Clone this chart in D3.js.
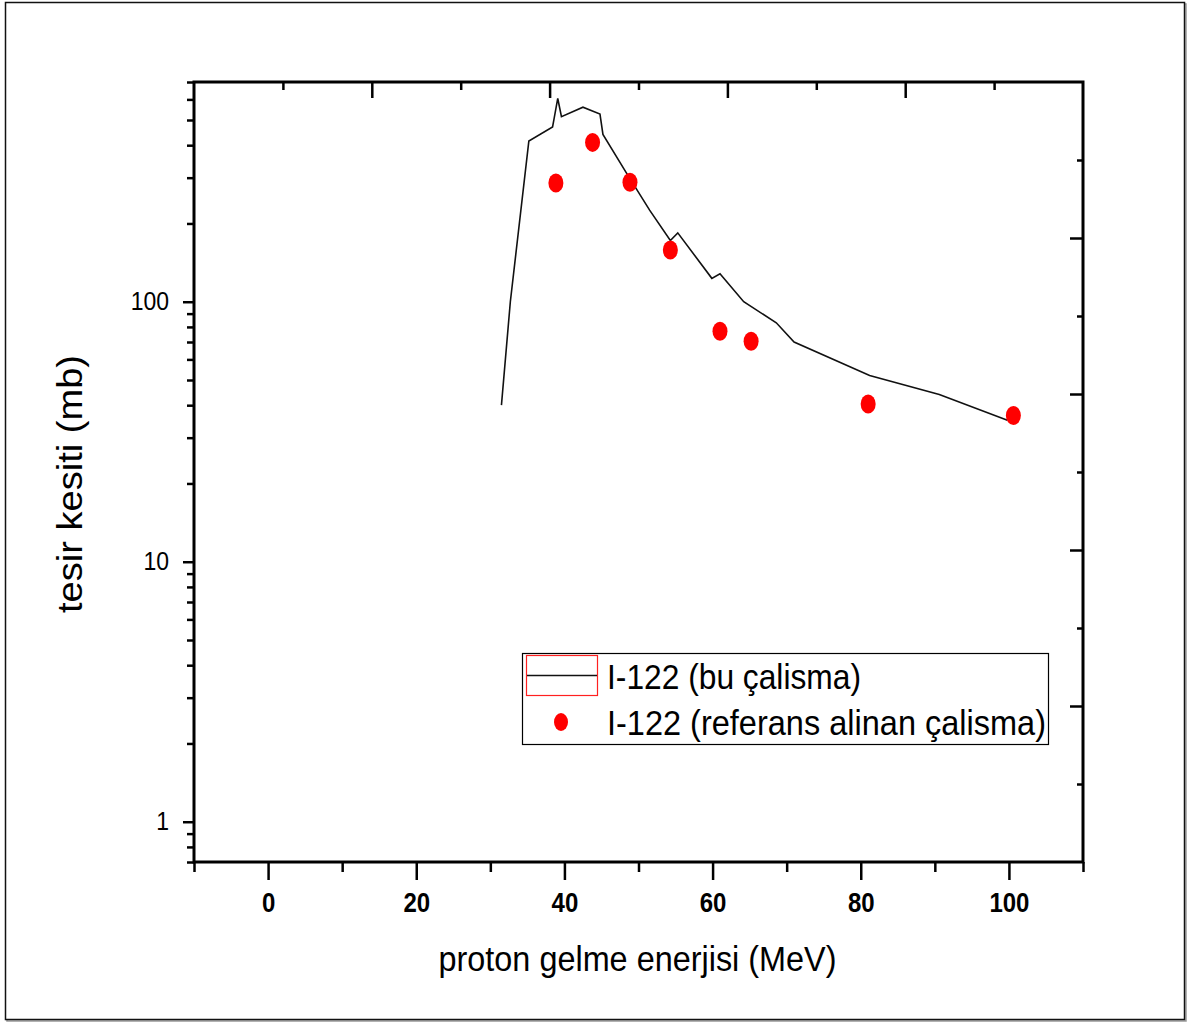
<!DOCTYPE html>
<html>
<head>
<meta charset="utf-8">
<script src="https://cdn.jsdelivr.net/npm/d3@7/dist/d3.min.js"></script>
<style>
  body { margin: 0; background: #fff; }
  svg { display: block; font-family: Arial, "Liberation Sans", sans-serif; }
</style>
</head>
<body>
<svg id="chart" width="1192" height="1023"></svg>
<script>
// calculated cross section (line)
const energyCalc = [31.5, 32.7, 35.2, 38.4, 38.6, 39.1, 39.6, 42.5, 44.8, 45.2, 48.3, 51.5,
                    54.3, 55.3, 59.9, 61.0, 64.2, 68.6, 71.0, 81.2, 90.6, 99.8];
const sigmaCalc = [40, 100, 415, 470, 505, 605, 515, 560, 527, 440, 315, 225,
                   172, 184, 123, 128, 100, 83, 70, 52, 44, 35];
// reference measurements (red dots)
const energyRef = [38.85, 43.8, 48.85, 54.3, 61.0, 65.2, 81.0, 100.6];
const sigmaRef = [286, 410, 288, 158, 77, 70.5, 40.4, 36.5];

const xTicks = [0, 20, 40, 60, 80, 100];
const xMinor = [-10, 10, 30, 50, 70, 90, 110];
const yTicks = [1, 10, 100];
const legendLabels = ["I-122 (bu çalisma)", "I-122 (referans alinan çalisma)"];
const xTitle = "proton gelme enerjisi (MeV)";
const yTitle = "tesir kesiti (mb)";

const svg = d3.select("#chart");
const L = 194, R = 1083, T = 82, B = 862;
const SY = 1.12; // text in the source is a bit taller than plain Arial

// outer frame with shadow
svg.append("rect").attr("x", 7).attr("y", 4).attr("width", 1179).attr("height", 1017)
  .attr("fill", "none").attr("stroke", "#999").attr("stroke-width", 1.5);
svg.append("rect").attr("x", 5.5).attr("y", 2.5).attr("width", 1179).attr("height", 1017)
  .attr("fill", "#fff").attr("stroke", "#111").attr("stroke-width", 1.5);

const x = d3.scaleLinear().domain([-10, 110]).range([L, R]);
const y = d3.scaleLog().domain([0.7, 700]).range([B, T]);
// unlabeled top / right axes
const xTop = d3.scaleLinear().domain([0, 10]).range([L, R]);
const yRight = d3.scaleLinear().domain([0, 10]).range([B, T]);

function styleAxis(g) {
  g.select(".domain").remove();
  g.selectAll(".tick line").attr("stroke", "#000").attr("stroke-width", 2.5);
  g.selectAll(".tick text").attr("fill", "#000");
}

// bottom axis
svg.append("g").attr("transform", `translate(0,${B})`)
  .call(d3.axisBottom(x).tickValues(xMinor).tickSize(10).tickFormat(""))
  .call(styleAxis);
svg.append("g").attr("transform", `translate(0,${B})`)
  .call(d3.axisBottom(x).tickValues(xTicks).tickSize(18).tickPadding(10).tickFormat(d3.format("d")))
  .call(styleAxis)
  .call(g => g.selectAll(".tick text").attr("font-size", 24).attr("font-weight", "bold")
    .attr("transform", `scale(1,${SY})`));

// left axis (log)
const yMinor = y.ticks().filter(v => !yTicks.includes(v));
svg.append("g").attr("transform", `translate(${L},0)`)
  .call(d3.axisLeft(y).tickValues(yMinor).tickSize(7).tickFormat(""))
  .call(styleAxis);
svg.append("g").attr("transform", `translate(${L},0)`)
  .call(d3.axisLeft(y).tickValues(yTicks).tickSize(11).tickPadding(14).tickFormat(d3.format("d")))
  .call(styleAxis)
  .call(g => g.selectAll(".tick text").attr("font-size", 23).attr("transform", `scale(1,${SY})`));

// top axis, ticks inside
svg.append("g").attr("transform", `translate(0,${T})`)
  .call(d3.axisBottom(xTop).tickValues(d3.range(1, 10)).tickFormat("").tickSize(0))
  .call(styleAxis)
  .call(g => g.selectAll(".tick line").attr("y2", d => d % 2 === 0 ? 16 : 8));

// right axis, ticks inside
svg.append("g").attr("transform", `translate(${R},0)`)
  .call(d3.axisRight(yRight).tickValues(d3.range(1, 10)).tickFormat("").tickSize(0))
  .call(styleAxis)
  .call(g => g.selectAll(".tick line").attr("x2", d => d % 2 === 0 ? -13 : -6));

// frame lines
svg.append("rect").attr("x", L).attr("y", T).attr("width", R - L).attr("height", B - T)
  .attr("fill", "none").attr("stroke", "#000").attr("stroke-width", 3);

// calculated line
const calc = energyCalc.map((e, i) => [e, sigmaCalc[i]]);
svg.append("path").datum(calc)
  .attr("fill", "none").attr("stroke", "#111").attr("stroke-width", 1.6)
  .attr("d", d3.line().x(d => x(d[0])).y(d => y(d[1])));

// reference dots
const ref = energyRef.map((e, i) => [e, sigmaRef[i]]);
svg.append("g").selectAll("ellipse").data(ref).join("ellipse")
  .attr("cx", d => x(d[0])).attr("cy", d => y(d[1]))
  .attr("rx", 7.5).attr("ry", 9.5).attr("fill", "#ff0000");

// axis titles
svg.append("text").attr("transform", `translate(637.5,971) scale(1,${SY})`)
  .attr("text-anchor", "middle").attr("font-size", 32)
  .attr("textLength", 398).attr("lengthAdjust", "spacingAndGlyphs")
  .text(xTitle);
svg.append("text").attr("transform", `translate(82,484) rotate(-90) scale(1,${SY})`)
  .attr("text-anchor", "middle").attr("font-size", 32)
  .attr("textLength", 258).attr("lengthAdjust", "spacingAndGlyphs")
  .text(yTitle);

// legend
const lg = svg.append("g");
lg.append("rect").attr("x", 522.5).attr("y", 653.5).attr("width", 526).attr("height", 91)
  .attr("fill", "#fff").attr("stroke", "#000").attr("stroke-width", 1.2);
lg.append("rect").attr("x", 526.5).attr("y", 655.5).attr("width", 71).attr("height", 40)
  .attr("fill", "none").attr("stroke", "#ff2020").attr("stroke-width", 1.2);
lg.append("line").attr("x1", 527).attr("x2", 597).attr("y1", 675.5).attr("y2", 675.5)
  .attr("stroke", "#111").attr("stroke-width", 1.6);
lg.append("ellipse").attr("cx", 561).attr("cy", 722).attr("rx", 7).attr("ry", 9)
  .attr("fill", "#ff0000");
lg.selectAll("text.lab").data(legendLabels).join("text").attr("class", "lab")
  .attr("transform", (d, i) => `translate(607,${689 + i * 46}) scale(1,${SY})`)
  .attr("font-size", 32)
  .attr("textLength", (d, i) => i === 0 ? 254 : 439).attr("lengthAdjust", "spacingAndGlyphs")
  .text(d => d);
</script>
</body>
</html>
